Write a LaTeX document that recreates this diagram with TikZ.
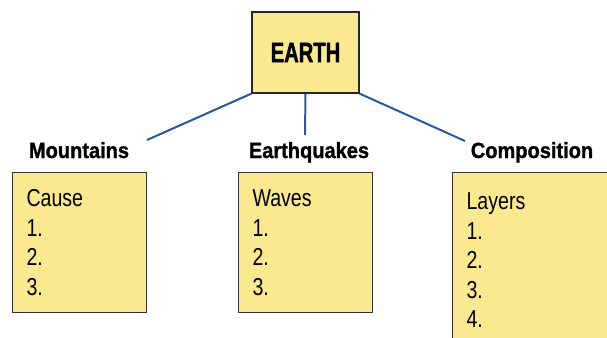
\documentclass[tikz,border=0pt]{standalone}
\usepackage{fontspec}
\setmainfont{Liberation Sans}
\newfontfamily\bodyfont[FakeStretch=0.8]{Liberation Sans}
\newfontfamily\labelfont[UprightFont=* Bold, FakeStretch=0.91, FakeBold=1.2]{Liberation Sans}
\newfontfamily\titlefont[UprightFont=* Bold, FakeStretch=0.72, FakeBold=1.4]{Liberation Sans}
\definecolor{boxyellow}{RGB}{250,233,142}
\definecolor{linkblue}{RGB}{44,86,166}

\begin{document}
\begin{tikzpicture}[x=1pt,y=-1pt,
    topicbox/.style={draw=black!85, line width=1.2pt, fill=boxyellow},
    listbox/.style={draw=black!80, line width=1pt, fill=boxyellow, anchor=north west,
        align=left, inner xsep=14pt, inner ysep=0pt,
        font=\bodyfont\fontsize{24.5}{29.5}\selectfont},
    heading/.style={anchor=base, inner sep=0pt, font=\labelfont\fontsize{22}{26}\selectfont},
    link/.style={draw=linkblue, line width=2pt}]
        \useasboundingbox (0,0) rectangle (607,337);

        % Main topic
        \node[topicbox, minimum width=107pt, minimum height=81pt,
            font=\titlefont\fontsize{28}{32}\selectfont] (earth) at (305.5,52.5) {EARTH};

        % Headings
        \node[heading] (mountains) at (79,158) {Mountains};
        \node[heading] (earthquakes) at (309,158) {Earthquakes};
        \node[heading] (composition) at (532,158) {Composition};

        % Free ends of the connectors
        \coordinate (mEnd) at (147,140);
        \coordinate (eEnd) at (305,135);
        \coordinate (cEnd) at (465,141);

        % Connectors
        \draw[link] (earth.south west) -- (mEnd);
        \draw[link] (earth.south) -- (eEnd);
        \draw[link] (earth.south east) -- (cEnd);

        % List boxes
        \node[listbox, text width=106pt, minimum height=140pt] (cause) at (12,172)
            {Cause\\1.\\2.\\3.};
        \node[listbox, text width=106pt, minimum height=140pt] (waves) at (238,172)
            {Waves\\1.\\2.\\3.};
        \node[listbox, text width=142pt, minimum height=176pt] (layers) at (452,172)
            {Layers\\1.\\2.\\3.\\4.};
\end{tikzpicture}
\end{document}
